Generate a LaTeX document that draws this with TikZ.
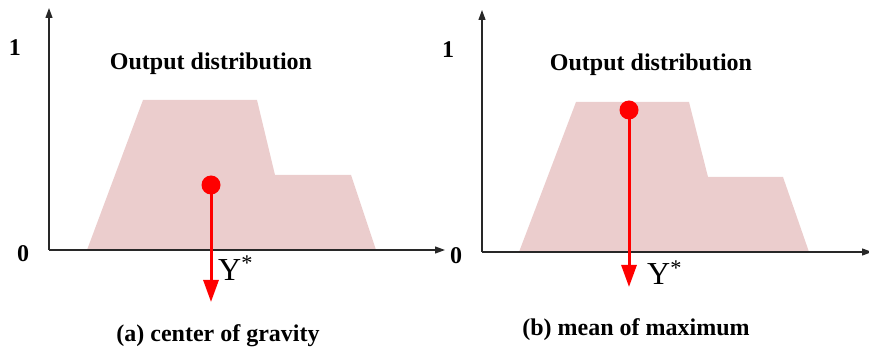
\documentclass[tikz,border=0pt]{standalone}
\usepackage{fontspec}
\setmainfont{Liberation Serif}
\usetikzlibrary{arrows.meta}
\definecolor{distfill}{RGB}{235,205,205}
\definecolor{axisgray}{RGB}{40,40,40}
\begin{document}
\begin{tikzpicture}[x=1pt,y=-1pt,
  axisline/.style={draw=axisgray,line width=1.2pt,-{Triangle[length=10pt,width=7pt]}},
  lbl/.style={font=\fontsize{24}{27}\selectfont\bfseries,inner sep=0pt},
  ystar/.style={font=\fontsize{32}{34}\selectfont,inner sep=0pt,anchor=base west},
  dot/.style={circle,fill=red,inner sep=0pt,minimum size=19pt},
  redarrow/.style={draw=red,line width=3pt,-{Triangle[length=22pt,width=15pt]}}]
\useasboundingbox (0,0) rectangle (869,352);
% ---------- left panel ----------
\fill[distfill] (87,250) -- (143,100) -- (257,100) -- (275,175) -- (351,175) -- (376,250) -- cycle;
\coordinate (Lo) at (49,250);
\coordinate (Ly) at (49,8);
\coordinate (Lx) at (445,250);
\draw[axisline] (Lo) -- (Ly);
\draw[axisline] (Lo) -- (Lx);
\node[lbl] (L1) at (15,47.5) {1};
\node[lbl] (L0) at (23,253.5) {0};
\node[lbl] (Ltitle) at (211,63.5) {Output distribution};
\node[dot] (Ldot) at (211,185) {};
\coordinate (Ltip) at (211,302);
\draw[redarrow] (Ldot.center) -- (Ltip);
\node[ystar] (LY) at (218,280) {Y\textsuperscript{*}};
\node[lbl] (Lcap) at (218,336) {(a) center of gravity};
% ---------- right panel ----------
\fill[distfill] (519,252) -- (576,102) -- (689,102) -- (708,177) -- (783,177) -- (809,252) -- cycle;
\coordinate (Ro) at (482,252);
\coordinate (Ry) at (482,10);
\coordinate (Rx) at (872,252);
\draw[axisline] (Ro) -- (Ry);
\draw[axisline] (Ro) -- (Rx);
\node[lbl] (R1) at (448,49.5) {1};
\node[lbl] (R0) at (456,256) {0};
\node[lbl] (Rtitle) at (651,65) {Output distribution};
\node[dot] (Rdot) at (629,110) {};
\coordinate (Rtip) at (629,287);
\draw[redarrow] (Rdot.center) -- (Rtip);
\node[ystar] (RY) at (647,285) {Y\textsuperscript{*}};
\node[lbl] (Rcap) at (636,330) {(b) mean of maximum};
\end{tikzpicture}
\end{document}
